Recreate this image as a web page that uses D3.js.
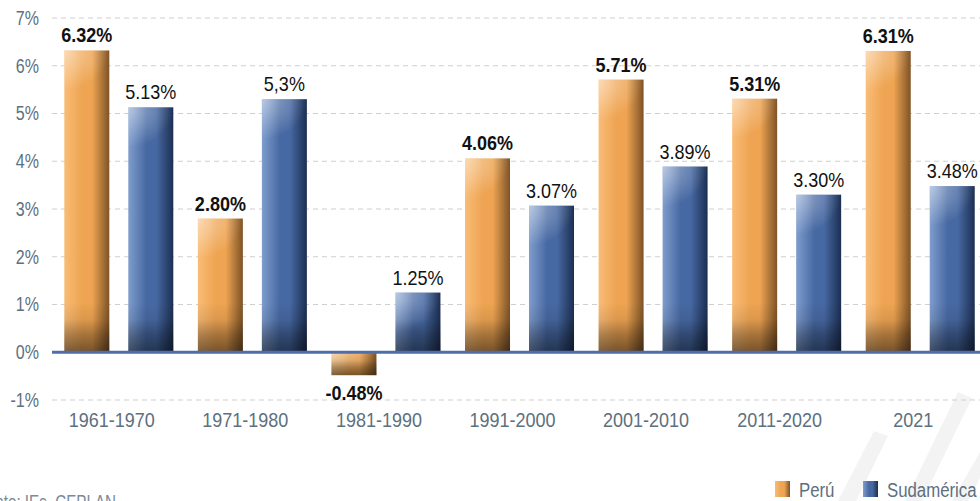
<!DOCTYPE html>
<html>
<head>
<meta charset="utf-8">
<script src="https://cdnjs.cloudflare.com/ajax/libs/d3/7.8.5/d3.min.js"></script>
<style>
  html, body { margin: 0; padding: 0; background: #fff; }
  svg { display: block; font-family: "Liberation Sans", Arial, sans-serif; }
</style>
</head>
<body>
<svg id="chart" width="980" height="501"></svg>
<script>
// data
var periods = ['1961-1970', '1971-1980', '1981-1990', '1991-2000', '2001-2010', '2011-2020', '2021'];
var series = ['Perú', 'Sudamérica'];
var peruValues = [6.32, 2.80, -0.48, 4.06, 5.71, 5.31, 6.31];
var sudValues = [5.13, 5.3, 1.25, 3.07, 3.89, 3.30, 3.48];
var peruLabels = ['6.32%', '2.80%', '-0.48%', '4.06%', '5.71%', '5.31%', '6.31%'];
var sudLabels = ['5.13%', '5,3%', '1.25%', '3.07%', '3.89%', '3.30%', '3.48%'];
var yTicks = [-1, 0, 1, 2, 3, 4, 5, 6, 7];
var sourceText = 'Fuente: IEs, CEPLAN';

var svg = d3.select('#chart');
var width = 980;

var x0 = d3.scaleBand().domain(periods).range([52, 987]).paddingInner(0).paddingOuter(0);
var x1 = d3.scaleBand().domain(series).range([12.3, 121.3]).paddingInner(19 / 64).paddingOuter(0);
var y = d3.scaleLinear().domain([-1, 7]).range([400, 18]);

var defs = svg.append('defs');

function addGradients(id, light, mid, dark) {
  var g = defs.append('linearGradient').attr('id', id + '-h').attr('x1', 0).attr('x2', 1).attr('y1', 0).attr('y2', 0);
  g.append('stop').attr('offset', '0%').attr('stop-color', light);
  g.append('stop').attr('offset', '40%').attr('stop-color', mid);
  g.append('stop').attr('offset', '62%').attr('stop-color', mid);
  g.append('stop').attr('offset', '100%').attr('stop-color', dark);
}
addGradients('peru', '#f9bc76', '#eea452', '#7e5326');
addGradients('sud', '#7f9dcd', '#4769a3', '#1c2f52');

// light corner at the top left of each bar
var shineGrad = defs.append('radialGradient').attr('id', 'shine').attr('cx', 0).attr('cy', 0).attr('r', 1);
shineGrad.append('stop').attr('offset', '0%').attr('stop-color', '#fff').attr('stop-opacity', 0.45);
shineGrad.append('stop').attr('offset', '100%').attr('stop-color', '#fff').attr('stop-opacity', 0);
// dark foot of each bar
var shadeGrad = defs.append('linearGradient').attr('id', 'shade').attr('x1', 0).attr('x2', 0).attr('y1', 0).attr('y2', 1);
shadeGrad.append('stop').attr('offset', '0%').attr('stop-color', '#000').attr('stop-opacity', 0);
shadeGrad.append('stop').attr('offset', '35%').attr('stop-color', '#000').attr('stop-opacity', 0.08);
shadeGrad.append('stop').attr('offset', '65%').attr('stop-color', '#000').attr('stop-opacity', 0.3);
shadeGrad.append('stop').attr('offset', '100%').attr('stop-color', '#000').attr('stop-opacity', 0.5);

// watermark
var wm = svg.append('g').attr('fill', '#f3f3f3');
wm.append('polygon').attr('points', '838,501 856,501 888,436 874,431');
wm.append('polygon').attr('points', '905,501 922,501 972,398 958,392');
wm.append('polygon').attr('points', '952,501 968,501 980,478 980,452');

// grid
svg.append('g').selectAll('line').data(yTicks.filter(function(d) { return d !== 0; }))
  .enter().append('line')
  .attr('x1', 52).attr('x2', width)
  .attr('y1', function(d) { return y(d); }).attr('y2', function(d) { return y(d); })
  .attr('stroke', '#cfcfcf').attr('stroke-width', 1).attr('stroke-dasharray', '5,4');

// y axis labels
var yAxis = d3.axisLeft(y).tickValues(yTicks).tickSize(0).tickPadding(0)
  .tickFormat(function(d) { return d + '%'; });
svg.append('g').attr('transform', 'translate(39,0)').call(yAxis)
  .call(function(g) { g.select('.domain').remove(); })
  .selectAll('text')
  .attr('transform', 'scale(0.8,1)')
  .attr('fill', '#5d7080').style('font-size', '20px').style('font-family', null);

// x axis labels
var xAxis = d3.axisBottom(x0).tickSize(0).tickPadding(0);
svg.append('g').attr('transform', 'translate(-7,413)').call(xAxis)
  .call(function(g) { g.select('.domain').remove(); })
  .selectAll('text')
  .attr('transform', 'scale(0.9,1)')
  .attr('fill', '#5d7080').attr('dy', '0.71em').style('font-size', '20px').style('font-family', null);

// bars
var rows = periods.map(function(p, i) {
  return [
    { period: p, key: 'Perú', grad: 'peru', value: peruValues[i], label: peruLabels[i] },
    { period: p, key: 'Sudamérica', grad: 'sud', value: sudValues[i], label: sudLabels[i] }
  ];
});
var flat = [].concat.apply([], rows);

var bars = svg.append('g').selectAll('g').data(flat).enter().append('g')
  .attr('transform', function(d) { return 'translate(' + (x0(d.period) + x1(d.key)) + ',0)'; });

function barTop(d) { return y(Math.max(0, d.value)); }
function barH(d) { return Math.abs(y(d.value) - y(0)); }

bars.append('rect')
  .attr('x', 0).attr('width', x1.bandwidth())
  .attr('y', barTop).attr('height', barH)
  .attr('fill', function(d) { return 'url(#' + d.grad + '-h)'; });
bars.append('rect')
  .attr('x', 0).attr('width', x1.bandwidth())
  .attr('y', barTop).attr('height', function(d) { return Math.min(40, barH(d)); })
  .attr('fill', 'url(#shine)');
bars.append('rect')
  .attr('x', 0).attr('width', x1.bandwidth())
  .attr('y', function(d) { return barTop(d) + barH(d) - Math.min(50, barH(d)); })
  .attr('height', function(d) { return Math.min(50, barH(d)); })
  .attr('fill', 'url(#shade)');

bars.append('text')
  .attr('transform', function(d) {
    var ty = d.value >= 0 ? y(d.value) - 8 : y(d.value) + 25;
    return 'translate(' + (x1.bandwidth() / 2) + ',' + ty + ') scale(0.9,1)';
  })
  .attr('text-anchor', 'middle')
  .attr('fill', '#111')
  .style('font-size', '20px')
  .style('font-weight', function(d) { return d.key === 'Perú' ? 'bold' : 'normal'; })
  .text(function(d) { return d.label; });

// zero line
svg.append('line').attr('x1', 52).attr('x2', width).attr('y1', y(0)).attr('y2', y(0))
  .attr('stroke', '#4f6ea8').attr('stroke-width', 3);

// legend
var legend = svg.append('g').selectAll('g').data(series).enter().append('g')
  .attr('transform', function(d, i) { return 'translate(' + (i === 0 ? 775 : 863) + ',481)'; });
legend.append('rect').attr('width', 15).attr('height', 16)
  .attr('fill', function(d, i) { return i === 0 ? 'url(#peru-h)' : 'url(#sud-h)'; });
legend.append('text').attr('transform', 'translate(24,16) scale(0.8,1)')
  .attr('fill', '#5d7080').style('font-size', '21px')
  .text(function(d) { return d; });

// source
svg.append('text').attr('transform', 'translate(116,509) scale(0.76,1)').attr('text-anchor', 'end')
  .attr('fill', '#7a8a96').style('font-size', '20px').text(sourceText);
</script>
</body>
</html>
